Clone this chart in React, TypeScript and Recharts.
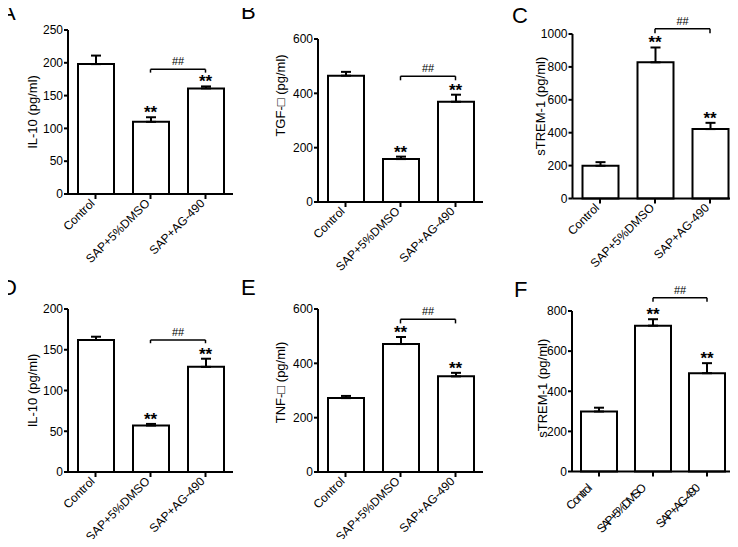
import React from 'react';
import { BarChart, Bar, XAxis, YAxis, ErrorBar, ReferenceLine, ReferenceDot } from 'recharts';

const groups = ['Control', 'SAP+5%DMSO', 'SAP+AG-490'];
const stars = ['', '**', '**'];

// A: IL-10
const il10A = [198, 110, 161];
const il10AErr = [13, 7, 3];
const ticksA = [0, 50, 100, 150, 200, 250];

// B: TGF
const tgfB = [465, 158, 369];
const tgfBErr = [14, 9, 26];
const ticksB = [0, 200, 400, 600];

// C: sTREM-1
const stremC = [199, 828, 422];
const stremCErr = [22, 90, 38];
const ticksC = [0, 200, 400, 600, 800, 1000];

// D: IL-10
const il10D = [162, 57, 129];
const il10DErr = [4, 2, 10];
const ticksD = [0, 50, 100, 150, 200];

// E: TNF
const tnfE = [272, 471, 352];
const tnfEErr = [8, 26, 13];
const ticksE = [0, 200, 400, 600];

// F: sTREM-1
const stremF = [299, 727, 490];
const stremFErr = [19, 32, 50];
const ticksF = [0, 200, 400, 600, 800];

// ## bracket levels (value, drop of the end ticks)
const bracketA = [190, 5];
const bracketB = [463, 15];
const bracketC = [1032, 27];
const bracketD = [162, 4];
const bracketE = [562, 15];
const bracketF = [866, 20];

const build = (values: number[], errs: number[]) =>
  groups.map((g, i) => ({ name: g, value: values[i], err: [0, errs[i]], top: values[i] + errs[i], sig: stars[i] }));

const squeezeLen: Record<string, number> = { Control: 31, 'SAP+5%DMSO': 64, 'SAP+AG-490': 57 };

const XTick = (props: any) => {
  const { x, y, payload, squeeze } = props;
  const px = squeeze ? x - 6 : x;
  const py = squeeze ? y + 12 : y + 5;
  return (
    <text
      x={px}
      y={py}
      transform={`rotate(-45, ${px}, ${py})`}
      textAnchor="end"
      fontSize={12}
      fill="#000"
      {...(squeeze ? { textLength: squeezeLen[payload.value], lengthAdjust: 'spacing' } : {})}
    >
      {payload.value}
    </text>
  );
};

type Box = { left: number; top: number; width: number; height: number; axisX: number; plotTop: number; plotBottom: number; plotRight: number };

function Panel({ box, data, ticks, yLabel, labelX, labelShift, bracket, squeeze }: {
  box: Box; data: any[]; ticks: number[]; yLabel: string; labelX: number; labelShift: number; bracket: number[]; squeeze?: boolean;
}) {
  const { left, top, width, height, axisX, plotTop, plotBottom, plotRight } = box;
  const cy = (plotTop + plotBottom) / 2 - top + labelShift;
  const [by, drop] = bracket;
  const line = { stroke: '#000', strokeWidth: 2 };
  return (
    <div style={{ position: 'absolute', left, top }}>
      <BarChart
        width={width}
        height={height}
        data={data}
        margin={{ top: plotTop - top, right: left + width - plotRight, bottom: 0, left: 0 }}
      >
        <XAxis
          dataKey="name"
          height={top + height - plotBottom}
          interval={0}
          tickSize={5}
          tickMargin={0}
          axisLine={line}
          tickLine={line}
          tick={<XTick squeeze={squeeze} />}
        />
        <YAxis
          width={axisX - left}
          domain={[0, ticks[ticks.length - 1]]}
          ticks={ticks}
          interval={0}
          tickSize={4}
          tickMargin={1}
          axisLine={line}
          tickLine={line}
          tick={{ fill: '#000', fontSize: 12 }}
          label={() => (
            <text
              x={labelX}
              y={cy}
              transform={`rotate(-90, ${labelX}, ${cy})`}
              textAnchor="middle"
              dominantBaseline="central"
              fontSize={13}
              fill="#000"
            >
              {yLabel}
            </text>
          )}
        />
        <Bar dataKey="value" fill="#fff" stroke="#000" strokeWidth={2} barSize={36} isAnimationActive={false}>
          <ErrorBar dataKey="err" width={5} stroke="#000" strokeWidth={2} direction="y" isAnimationActive={false} />
        </Bar>
        {data.filter((d) => d.sig).map((d) => (
          <ReferenceDot
            key={d.name}
            x={d.name}
            y={d.top}
            r={0}
            fill="none"
            stroke="none"
            ifOverflow="visible"
            label={{ value: d.sig, position: 'top', offset: -1, fontSize: 17, fontWeight: 'bold', fill: '#000' }}
          />
        ))}
        <ReferenceLine
          segment={[{ x: groups[1], y: by }, { x: groups[2], y: by }]}
          stroke="#000"
          strokeWidth={1.5}
          ifOverflow="visible"
          label={{ value: '##', position: 'top', offset: 4, fontSize: 11, fill: '#000' }}
        />
        <ReferenceLine segment={[{ x: groups[1], y: by }, { x: groups[1], y: by - drop }]} stroke="#000" strokeWidth={1.5} ifOverflow="visible" />
        <ReferenceLine segment={[{ x: groups[2], y: by }, { x: groups[2], y: by - drop }]} stroke="#000" strokeWidth={1.5} ifOverflow="visible" />
      </BarChart>
    </div>
  );
}

const letters = [
  { t: 'A', x: 1, y: 1 },
  { t: 'B', x: 241, y: 0 },
  { t: 'C', x: 512, y: 4 },
  { t: 'D', x: 1, y: 276 },
  { t: 'E', x: 241, y: 276 },
  { t: 'F', x: 514, y: 278 },
];

export default function App() {
  return (
    <div
      style={{
        position: 'relative',
        width: 738,
        height: 547,
        margin: -8,
        background: '#fff',
        fontFamily: '"Liberation Sans", Arial, sans-serif',
      }}
    >
      <Panel
        box={{ left: 0, top: 0, width: 245, height: 292, axisX: 68, plotTop: 30, plotBottom: 194, plotRight: 233 }}
        data={build(il10A, il10AErr)}
        ticks={ticksA}
        yLabel="IL-10 (pg/ml)"
        labelX={32}
        labelShift={0}
        bracket={bracketA}
      />
      <Panel
        box={{ left: 245, top: 0, width: 245, height: 292, axisX: 318, plotTop: 39, plotBottom: 202, plotRight: 483 }}
        data={build(tgfB, tgfBErr)}
        ticks={ticksB}
        yLabel="TGF-□ (pg/ml)"
        labelX={35}
        labelShift={-25}
        bracket={bracketB}
      />
      <Panel
        box={{ left: 490, top: 0, width: 248, height: 292, axisX: 572.5, plotTop: 34, plotBottom: 198.5, plotRight: 737.5 }}
        data={build(stremC, stremCErr)}
        ticks={ticksC}
        yLabel="sTREM-1 (pg/ml)"
        labelX={50}
        labelShift={-10}
        bracket={bracketC}
      />
      <Panel
        box={{ left: 0, top: 270, width: 245, height: 277, axisX: 68, plotTop: 309, plotBottom: 472, plotRight: 233 }}
        data={build(il10D, il10DErr)}
        ticks={ticksD}
        yLabel="IL-10 (pg/ml)"
        labelX={32}
        labelShift={0}
        bracket={bracketD}
      />
      <Panel
        box={{ left: 245, top: 270, width: 245, height: 277, axisX: 318, plotTop: 309, plotBottom: 472, plotRight: 483 }}
        data={build(tnfE, tnfEErr)}
        ticks={ticksE}
        yLabel="TNF-□ (pg/ml)"
        labelX={35}
        labelShift={-8}
        bracket={bracketE}
      />
      <Panel
        box={{ left: 490, top: 270, width: 248, height: 277, axisX: 572, plotTop: 311, plotBottom: 471.5, plotRight: 734 }}
        data={build(stremF, stremFErr)}
        ticks={ticksF}
        yLabel="sTREM-1 (pg/ml)"
        labelX={52}
        labelShift={-3}
        bracket={bracketF}
        squeeze
      />
      {letters.map((l) => (
        <div
          key={l.t}
          style={{ position: 'absolute', left: l.x, top: l.y, zIndex: 10, fontSize: 22, lineHeight: '24px', color: '#000' }}
        >
          {l.t}
        </div>
      ))}
    </div>
  );
}
